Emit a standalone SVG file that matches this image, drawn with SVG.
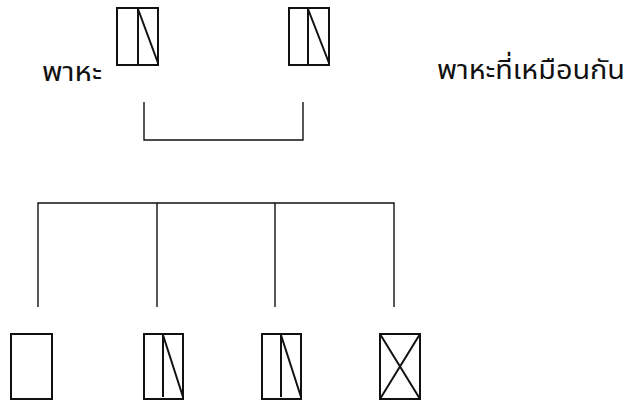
<svg xmlns="http://www.w3.org/2000/svg" width="630" height="404" viewBox="0 0 630 404">
<style>
.b{fill:none;stroke:#111;stroke-width:2}
.c{fill:none;stroke:#111;stroke-width:1.4}
.t{font-family:"Noto Sans Thai","Noto Sans","DejaVu Sans",sans-serif;font-size:27px;fill:#111}
</style>
<rect width="630" height="404" fill="#fff"/>
<g id="parent1">
<rect class="b" x="117" y="8" width="41" height="57"/>
<path class="b" d="M138 8V65M138 9L158 63"/>
</g>
<g id="parent2">
<rect class="b" x="289" y="8" width="40" height="57"/>
<path class="b" d="M308 8V65M308 9L329 63"/>
</g>
<g id="child1"><rect class="b" x="11" y="334" width="41" height="65"/></g>
<g id="child2">
<rect class="b" x="144" y="334" width="39" height="65"/>
<path class="b" d="M163 334V397M163 335L183 397"/>
</g>
<g id="child3">
<rect class="b" x="262" y="334" width="39" height="65"/>
<path class="b" d="M281 334V397M281 335L301 397"/>
</g>
<g id="child4">
<rect class="b" x="380" y="334" width="40" height="65"/>
<path class="b" d="M380 334L420 399M420 334L380 399"/>
</g>
<g id="connectors">
<path class="c" d="M144 102V140H303V102"/>
<path class="c" d="M38 307V203H394V307M157 203V307M275 203V307"/>
</g>
<g id="labels">
<text class="t" x="42" y="81" textLength="60" lengthAdjust="spacingAndGlyphs">พาหะ</text>
<text class="t" x="437" y="79" textLength="188" lengthAdjust="spacingAndGlyphs">พาหะที่เหมือนกัน</text>
</g>
</svg>
